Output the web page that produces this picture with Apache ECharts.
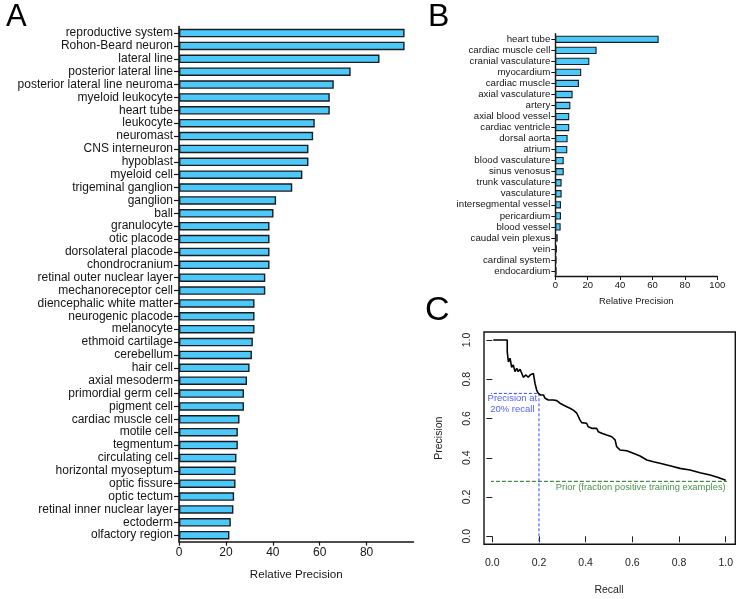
<!DOCTYPE html>
<html>
<head>
<meta charset="utf-8">
<script src="https://cdn.jsdelivr.net/npm/echarts@6/dist/echarts.min.js"></script>
<style>html,body{margin:0;padding:0;background:#fff;}#main{width:742px;height:599px;}</style>
</head>
<body>
<div id="main"></div>
<script>
const catsA = ["reproductive system","Rohon-Beard neuron","lateral line","posterior lateral line","posterior lateral line neuroma","myeloid leukocyte","heart tube","leukocyte","neuromast","CNS interneuron","hypoblast","myeloid cell","trigeminal ganglion","ganglion","ball","granulocyte","otic placode","dorsolateral placode","chondrocranium","retinal outer nuclear layer","mechanoreceptor cell","diencephalic white matter","neurogenic placode","melanocyte","ethmoid cartilage","cerebellum","hair cell","axial mesoderm","primordial germ cell","pigment cell","cardiac muscle cell","motile cell","tegmentum","circulating cell","horizontal myoseptum","optic fissure","optic tectum","retinal inner nuclear layer","ectoderm","olfactory region"];
const valsA = [96.2,96.2,85.5,73.2,66.0,64.3,64.3,57.9,57.2,55.2,55.2,52.6,48.3,41.4,40.3,38.6,38.6,38.6,38.6,36.8,36.8,32.2,32.2,32.2,31.5,31.1,30.1,29.0,27.7,27.7,25.8,25.1,25.1,24.5,24.1,24.1,23.5,23.2,22.1,21.5];
const ticksA = [0, 20, 40, 60, 80];

const catsB = ["heart tube","cardiac muscle cell","cranial vasculature","myocardium","cardiac muscle","axial vasculature","artery","axial blood vessel","cardiac ventricle","dorsal aorta","atrium","blood vasculature","sinus venosus","trunk vasculature","vasculature","intersegmental vessel","pericardium","blood vessel","caudal vein plexus","vein","cardinal system","endocardium"];
const valsB = [63.8,25.5,21.0,16.0,14.6,10.7,9.3,8.6,8.6,7.6,7.4,5.2,5.2,3.9,3.9,3.5,3.5,3.3,1.5,1.0,0.8,0.8];

const recall = [0.004,0.064,0.064,0.069,0.076,0.083,0.090,0.097,0.105,0.111,0.119,0.133,0.144,0.154,0.162,0.176,0.183,0.190,0.197,0.207,0.212,0.219,0.226,0.233,0.240,0.247,0.261,0.269,0.276,0.290,0.304,0.319,0.333,0.347,0.362,0.368,0.376,0.383,0.390,0.404,0.411,0.426,0.433,0.447,0.454,0.469,0.490,0.512,0.526,0.533,0.547,0.576,0.604,0.633,0.662,0.690,0.718,0.761,0.804,0.847,0.890,0.933,0.968,1.000];
const precision = [1.0,1.0,0.940,0.889,0.907,0.861,0.873,0.839,0.856,0.839,0.851,0.810,0.822,0.810,0.822,0.830,0.779,0.745,0.728,0.720,0.711,0.720,0.703,0.711,0.694,0.703,0.694,0.686,0.691,0.678,0.669,0.660,0.652,0.643,0.627,0.618,0.592,0.579,0.584,0.576,0.558,0.550,0.555,0.550,0.533,0.525,0.516,0.507,0.491,0.456,0.440,0.436,0.423,0.409,0.389,0.380,0.372,0.359,0.346,0.338,0.324,0.312,0.300,0.285];
const priorValue = 0.28;
const recallMark = 0.2;
const precisionAt20 = 0.728;

const FONT = "'Liberation Sans', Arial, sans-serif";
const BAR = '#4cc8fb';
const INK = '#151515';

const chart = echarts.init(document.getElementById('main'), null, {renderer: 'canvas'});

const pr = recall.map((r, i) => [r, precision[i]]);

const option = {
  animation: false,
  backgroundColor: '#fff',
  textStyle: {fontFamily: FONT, color: INK},
  grid: [
    {left: 179, top: 26.6, width: 234.5, height: 515, containLabel: false},
    {left: 555.3, top: 33.8, width: 162, height: 242.7, containLabel: false},
    {left: 492.3, top: 340, width: 233.4, height: 196.3, containLabel: false}
  ],
  xAxis: [
    {gridIndex: 0, type: 'value', min: 0, max: 100, interval: 20,
     axisLine: {show: true, lineStyle: {color: INK, width: 1.6}},
     axisTick: {show: true, length: 4, customValues: ticksA, lineStyle: {color: INK, width: 1.2}},
     splitLine: {show: false},
     axisLabel: {fontFamily: FONT, fontSize: 12, color: INK, margin: 5, customValues: ticksA, formatter: v => v === 100 ? '' : String(v)},
     name: 'Relative Precision', nameLocation: 'middle', nameGap: 27,
     nameTextStyle: {fontFamily: FONT, fontSize: 11.6, color: INK}},
    {gridIndex: 1, type: 'value', min: 0, max: 100, interval: 20,
     axisLine: {show: true, lineStyle: {color: INK, width: 1.4}},
     axisTick: {show: true, length: 3.5, lineStyle: {color: INK, width: 1}},
     splitLine: {show: false},
     axisLabel: {fontFamily: FONT, fontSize: 9.5, color: INK, margin: 4},
     name: 'Relative Precision', nameLocation: 'middle', nameGap: 20,
     nameTextStyle: {fontFamily: FONT, fontSize: 9.3, color: INK}},
    {gridIndex: 2, type: 'value', min: 0, max: 1, interval: 0.2, offset: 8,
     axisLine: {show: false},
     axisTick: {show: true, length: 6, lineStyle: {color: '#222', width: 1}},
     splitLine: {show: false},
     axisLabel: {fontFamily: FONT, fontSize: 10.5, color: '#222', margin: 13, formatter: v => v.toFixed(1)},
     name: 'Recall', nameLocation: 'middle', nameGap: 40,
     nameTextStyle: {fontFamily: FONT, fontSize: 10.5, color: '#222'}}
  ],
  yAxis: [
    {gridIndex: 0, type: 'category', data: catsA, inverse: true,
     axisLine: {show: true, lineStyle: {color: INK, width: 1.6}},
     axisTick: {show: true, length: 5, alignWithLabel: true, lineStyle: {color: INK, width: 1.2}},
     axisLabel: {fontFamily: FONT, fontSize: 12, color: INK, margin: 6, interval: 0}},
    {gridIndex: 1, type: 'category', data: catsB, inverse: true,
     axisLine: {show: true, lineStyle: {color: INK, width: 1.4}},
     axisTick: {show: true, length: 4, alignWithLabel: true, lineStyle: {color: INK, width: 1}},
     axisLabel: {fontFamily: FONT, fontSize: 9.7, color: INK, margin: 5, interval: 0}},
    {gridIndex: 2, type: 'value', min: 0, max: 1, interval: 0.2, offset: 8,
     axisLine: {show: false},
     axisTick: {show: true, length: 6, lineStyle: {color: '#222', width: 1}},
     splitLine: {show: false},
     axisLabel: {fontFamily: FONT, fontSize: 10.5, color: '#222', margin: 12, rotate: 90, formatter: v => v.toFixed(1)},
     name: 'Precision', nameLocation: 'middle', nameGap: 40, nameRotate: 90,
     nameTextStyle: {fontFamily: FONT, fontSize: 10.5, color: '#222'}}
  ],
  graphic: [
    {type: 'text', left: 6, top: 2, style: {text: 'A', font: '31px ' + FONT, fill: '#000'}},
    {type: 'text', left: 428, top: 1, style: {text: 'B', font: '32px ' + FONT, fill: '#000'}},
    {type: 'text', left: 425, top: 294, style: {text: 'C', font: '34px ' + FONT, fill: '#000'}},
    {type: 'rect', shape: {x: 484, y: 332, width: 251.3, height: 212.3},
     style: {fill: 'none', stroke: '#111', lineWidth: 1.4}, z: 10}
  ],
  series: [
    {type: 'bar', xAxisIndex: 0, yAxisIndex: 0, data: valsA, barWidth: 8.5,
     itemStyle: {color: BAR, borderColor: '#1c1c1c', borderWidth: 1.4}},
    {type: 'bar', xAxisIndex: 1, yAxisIndex: 1, data: valsB, barWidth: 7.3,
     itemStyle: {color: BAR, borderColor: '#1c1c1c', borderWidth: 1.1}},
    {type: 'line', xAxisIndex: 2, yAxisIndex: 2, clip: false, symbol: 'none',
     data: [[-0.036, priorValue], [1.04, priorValue]],
     lineStyle: {color: '#1f6f1f', width: 1, type: [4, 2]}},
    {type: 'line', xAxisIndex: 2, yAxisIndex: 2, clip: false, symbol: 'none',
     data: [[-0.036, precisionAt20], [recallMark, precisionAt20], [recallMark, -0.04]],
     lineStyle: {color: '#2f48ff', width: 1, type: [3, 2]}},
    {type: 'line', xAxisIndex: 2, yAxisIndex: 2, clip: false, symbol: 'none',
     data: pr, lineStyle: {color: '#000', width: 1.6}, z: 5},
    {type: 'scatter', xAxisIndex: 2, yAxisIndex: 2, symbolSize: 0, silent: true,
     data: [[0.086, 0.674]],
     label: {show: true, position: 'inside', formatter: 'Precision at\n20% recall',
             fontFamily: FONT, fontSize: 9.5, lineHeight: 10.5, color: '#2438ff', align: 'center'}},
    {type: 'scatter', xAxisIndex: 2, yAxisIndex: 2, symbolSize: 0, silent: true,
     data: [[1.0, 0.248]],
     label: {show: true, position: 'inside', formatter: 'Prior (fraction positive training examples)',
             fontFamily: FONT, fontSize: 9.4, color: '#1e7a1e', align: 'right'}}
  ]
};
chart.setOption(option);
</script>
</body>
</html>
